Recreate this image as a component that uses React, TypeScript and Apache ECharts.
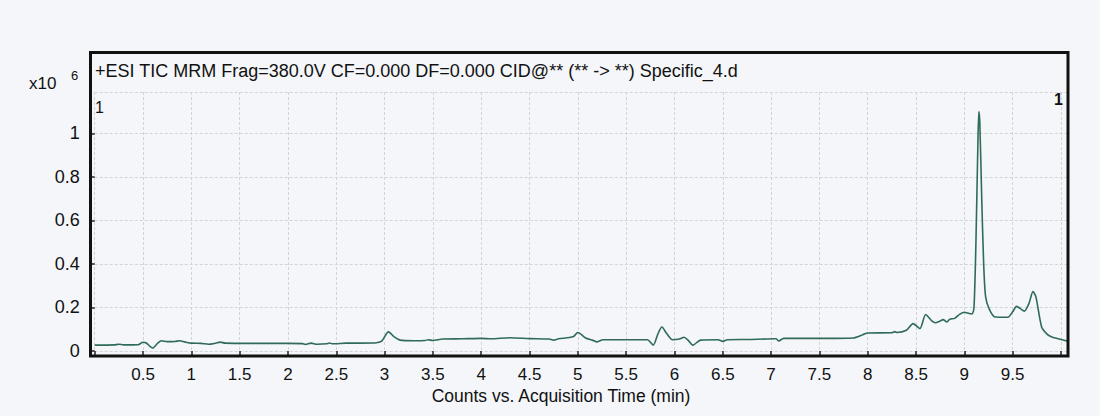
import React, { useEffect, useRef } from "react";
import * as echarts from "echarts";

const times = [
  0.0, 0.2, 0.25, 0.3, 0.45, 0.5, 0.53, 0.6, 0.65, 0.69, 0.75, 0.83, 0.88, 0.93,
  1.0, 1.1, 1.18, 1.25, 1.3, 1.35, 1.6, 2.0, 2.15, 2.18, 2.24, 2.3, 2.4, 2.43,
  2.46, 2.6, 2.9, 2.97, 3.04, 3.1, 3.16, 3.3, 3.42, 3.45, 3.5, 3.6, 3.8, 4.0,
  4.1, 4.3, 4.5, 4.7, 4.75, 4.8, 4.95, 5.0, 5.08, 5.15, 5.2, 5.26, 5.5, 5.72,
  5.78, 5.83, 5.87, 5.92, 5.98, 6.05, 6.1, 6.14, 6.19, 6.27, 6.45, 6.5, 6.55,
  6.75, 7.05, 7.08, 7.13, 7.5, 7.85, 7.95, 8.0, 8.25, 8.28, 8.3, 8.4, 8.47,
  8.54, 8.6, 8.66, 8.7, 8.75, 8.78, 8.82, 8.85, 8.9, 8.95, 9.0, 9.05, 9.08,
  9.1, 9.12, 9.14, 9.15, 9.16, 9.18, 9.2, 9.22, 9.26, 9.32, 9.45, 9.5, 9.54,
  9.58, 9.62, 9.67, 9.71, 9.74, 9.8, 9.85, 9.9, 10.0, 10.08,
];

const counts = [
  0.027, 0.028, 0.031, 0.028, 0.029, 0.04, 0.038, 0.014, 0.035, 0.047, 0.043,
  0.044, 0.047, 0.042, 0.036, 0.035, 0.031, 0.036, 0.041, 0.036, 0.035, 0.035,
  0.034, 0.03, 0.036, 0.031, 0.033, 0.037, 0.033, 0.036, 0.037, 0.045, 0.088,
  0.065, 0.05, 0.047, 0.048, 0.052, 0.048, 0.055, 0.056, 0.058, 0.056, 0.061,
  0.057, 0.055, 0.05, 0.056, 0.065, 0.085, 0.06, 0.05, 0.042, 0.052, 0.052,
  0.052, 0.027, 0.08, 0.11, 0.08, 0.052, 0.055, 0.063, 0.05, 0.027, 0.05,
  0.052, 0.044, 0.052, 0.053, 0.056, 0.046, 0.058, 0.058, 0.06, 0.075, 0.083,
  0.084, 0.089, 0.085, 0.095, 0.126, 0.103, 0.168, 0.14, 0.13, 0.138, 0.144,
  0.133, 0.146, 0.15, 0.168, 0.178, 0.172, 0.17, 0.2, 0.5, 0.95, 1.1, 1.05,
  0.7, 0.4, 0.25, 0.19, 0.156, 0.155, 0.18, 0.205, 0.195, 0.183, 0.22, 0.273,
  0.25, 0.11, 0.08, 0.065, 0.053, 0.045,
];

const titleText =
  "+ESI TIC MRM Frag=380.0V CF=0.000 DF=0.000 CID@** (** -> **) Specific_4.d";
const xAxisTitle = "Counts vs. Acquisition Time (min)";
const hiddenXLabels = [0, 10];

const FONT = "Liberation Sans, Arial, sans-serif";

export default function App() {
  const ref = useRef<HTMLDivElement>(null);
  useEffect(() => {
    document.body.style.margin = "0";
    document.body.style.background = "#f4f6f9";
    const chart = echarts.init(ref.current!, null, { renderer: "svg" });
    const gridColor = "#d2d4d6";
    chart.setOption({
      animation: false,
      backgroundColor: "#f4f6f9",
      grid: { left: 94.7, right: 31.3, top: 92, bottom: 65 },
      xAxis: {
        type: "value",
        min: 0,
        max: 10.08,
        interval: 0.5,
        offset: 5,
        axisLine: { show: false },
        axisTick: { show: true, length: 5, lineStyle: { color: "#222", width: 1.5 } },
        axisLabel: {
          color: "#111",
          fontSize: 17,
          fontFamily: FONT,
          margin: 10,
          showMaxLabel: false,
          formatter: (v: number) =>
            hiddenXLabels.includes(Math.round(v * 100) / 100) ? "" : String(v),
        },
        splitLine: {
          show: true,
          lineStyle: { color: gridColor, width: 1, type: [3, 2] },
        },
      },
      yAxis: {
        type: "value",
        min: 0,
        max: 1.19,
        interval: 0.2,
        offset: 4,
        axisLine: { show: false },
        axisTick: { show: true, length: 5, lineStyle: { color: "#222", width: 1.5 } },
        axisLabel: {
          color: "#111",
          fontSize: 18,
          fontFamily: FONT,
          margin: 11,
          showMaxLabel: false,
          formatter: (v: number) => String(Math.round(v * 10) / 10),
        },
        splitLine: {
          show: true,
          lineStyle: { color: gridColor, width: 1, type: [3, 2] },
        },
      },
      series: [
        {
          type: "line",
          data: times.map((t, i) => [t, counts[i]]),
          showSymbol: false,
          smooth: 0.25,
          lineStyle: { color: "#2f6b58", width: 1.6 },
        },
      ],
      graphic: [
        {
          type: "rect",
          z: 100,
          shape: { x: 90.5, y: 52.5, width: 977.5, height: 303.5 },
          style: { fill: "none", stroke: "#111", lineWidth: 3 },
        },
        {
          type: "text",
          z: 100,
          left: 95,
          top: 62,
          style: { text: titleText, font: `18px ${FONT}`, fill: "#111" },
        },
        {
          type: "text",
          z: 100,
          left: 29,
          top: 75,
          style: { text: "x10", font: `17px ${FONT}`, fill: "#111" },
        },
        {
          type: "text",
          z: 100,
          left: 71,
          top: 69,
          style: { text: "6", font: `13px ${FONT}`, fill: "#111" },
        },
        {
          type: "text",
          z: 100,
          left: 95,
          top: 99,
          style: { text: "1", font: `16px ${FONT}`, fill: "#111" },
        },
        {
          type: "text",
          z: 100,
          left: 1054,
          top: 91,
          style: { text: "1", font: `bold 16px ${FONT}`, fill: "#111" },
        },
        {
          type: "text",
          z: 100,
          x: 561,
          y: 395.5,
          style: {
            text: xAxisTitle,
            font: `17.5px ${FONT}`,
            fill: "#111",
            align: "center",
            verticalAlign: "middle",
          },
        },
      ],
    });
    return () => chart.dispose();
  }, []);
  return <div ref={ref} style={{ width: 1100, height: 416 }} />;
}
